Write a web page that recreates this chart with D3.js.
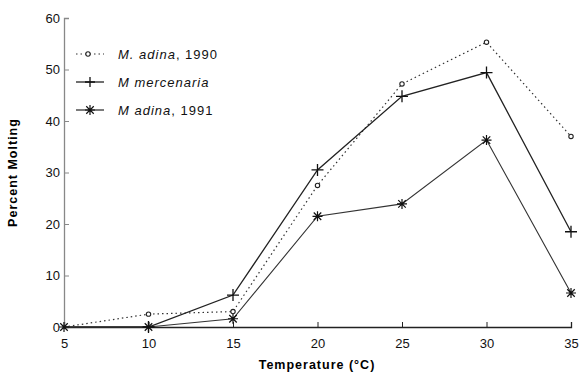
<!DOCTYPE html>
<html><head><meta charset="utf-8">
<script src="https://cdn.jsdelivr.net/npm/d3@7"></script>
<style>body{margin:0;background:#fff}svg{display:block}text{font-family:"Liberation Sans",Arial,sans-serif}</style>
</head><body>
<svg id="c" width="579" height="374"></svg>
<script>
const temps = [5, 10, 15, 20, 25, 30, 35];
const adina1990 = [0, 2.5, 3, 27.5, 47.2, 55.3, 37];
const mercenaria = [0, 0, 6.2, 30.5, 44.8, 49.4, 18.5];
const adina1991 = [0, 0, 1.6, 21.5, 23.9, 36.3, 6.6];
const xTicks = [5, 10, 15, 20, 25, 30, 35];
const yTicks = [0, 10, 20, 30, 40, 50, 60];
const legendNames = [["M.", "adina", ", 1990"], ["M", "mercenaria", ""], ["M", "adina", ", 1991"]];

const svg = d3.select("#c");
const x = d3.scaleLinear().domain([5, 35]).range([64, 571]);
const y = d3.scaleLinear().domain([0, 60]).range([327, 18]);

// axes
const xa = svg.append("g").attr("transform", `translate(0,${y(0)})`)
  .call(d3.axisBottom(x).tickValues(xTicks).tickSize(-5).tickPadding(12).tickFormat(d3.format("d")));
xa.select(".domain").attr("stroke", "#222").attr("stroke-width", 1.3);
xa.selectAll(".tick line").attr("stroke", "#222");
xa.selectAll("text").attr("font-size", 13).attr("fill", "#111");

const ya = svg.append("g").attr("transform", `translate(${x(5)},0)`)
  .call(d3.axisLeft(y).tickValues(yTicks).tickSize(-5).tickPadding(4).tickFormat(d3.format("d")));
ya.select(".domain").attr("stroke", "#888").attr("stroke-width", 1.3);
ya.selectAll(".tick line").attr("stroke", "#888");
ya.selectAll("text").attr("font-size", 13).attr("fill", "#111");

svg.append("text").attr("x", 317).attr("y", 369).attr("text-anchor", "middle")
  .attr("font-size", 12.5).attr("font-weight", "bold").attr("letter-spacing", 1).text("Temperature (°C)");
svg.append("text").attr("transform", `translate(17,${y(30)}) rotate(-90)`).attr("text-anchor", "middle")
  .attr("font-size", 12.5).attr("font-weight", "bold").attr("letter-spacing", 1).text("Percent Molting");

const line = d3.line().x((d, i) => x(temps[i])).y(d => y(d));

// series
svg.append("path").datum(adina1990).attr("d", line).attr("fill", "none")
  .attr("stroke", "#333").attr("stroke-width", 1.2).attr("stroke-dasharray", "1.5,3");
svg.append("path").datum(mercenaria).attr("d", line).attr("fill", "none")
  .attr("stroke", "#222").attr("stroke-width", 1.3);
svg.append("path").datum(adina1991).attr("d", line).attr("fill", "none")
  .attr("stroke", "#333").attr("stroke-width", 1.1);

function circleMark(g, cx, cy) {
  g.append("circle").attr("cx", cx).attr("cy", cy).attr("r", 2.2).attr("fill", "#fff").attr("stroke", "#222").attr("stroke-width", 1.1);
}
function plusMark(g, cx, cy, s) {
  s = s || 6;
  g.append("path").attr("d", `M${cx-s},${cy}H${cx+s}M${cx},${cy-s}V${cy+s}`).attr("stroke", "#111").attr("stroke-width", 1.3);
}
function starMark(g, cx, cy) {
  const r = 5;
  g.append("path").attr("d", `M${cx-r},${cy}H${cx+r}M${cx},${cy-r}V${cy+r}M${cx-r*0.75},${cy-r*0.75}L${cx+r*0.75},${cy+r*0.75}M${cx-r*0.75},${cy+r*0.75}L${cx+r*0.75},${cy-r*0.75}`)
    .attr("stroke", "#111").attr("stroke-width", 1.2);
}
const mk = svg.append("g");
adina1991.forEach((v, i) => starMark(mk, x(temps[i]), y(v)));
mercenaria.forEach((v, i) => { if (i > 0) plusMark(mk, x(temps[i]), y(v)); });
adina1990.forEach((v, i) => { if (i > 0) circleMark(mk, x(temps[i]), y(v)); });

// legend
const ly = [54, 82, 110];
const lg = svg.append("g");
lg.append("line").attr("x1", 76).attr("x2", 104).attr("y1", ly[0]).attr("y2", ly[0]).attr("stroke", "#333").attr("stroke-width", 1.2).attr("stroke-dasharray", "1.5,3");
circleMark(lg, 88, ly[0]);
lg.append("line").attr("x1", 76).attr("x2", 104).attr("y1", ly[1]).attr("y2", ly[1]).attr("stroke", "#222").attr("stroke-width", 1.3);
plusMark(lg, 90, ly[1], 5);
lg.append("line").attr("x1", 76).attr("x2", 104).attr("y1", ly[2]).attr("y2", ly[2]).attr("stroke", "#222").attr("stroke-width", 1.2);
starMark(lg, 90, ly[2]);
legendNames.forEach((n, i) => {
  const t = lg.append("text").attr("x", 118).attr("y", ly[i] + 4.5).attr("font-size", 13).attr("fill", "#111").attr("letter-spacing", 1);
  t.append("tspan").attr("font-style", "italic").text(n[0] + " " + n[1]);
  t.append("tspan").text(n[2]);
});
</script>
</body></html>
